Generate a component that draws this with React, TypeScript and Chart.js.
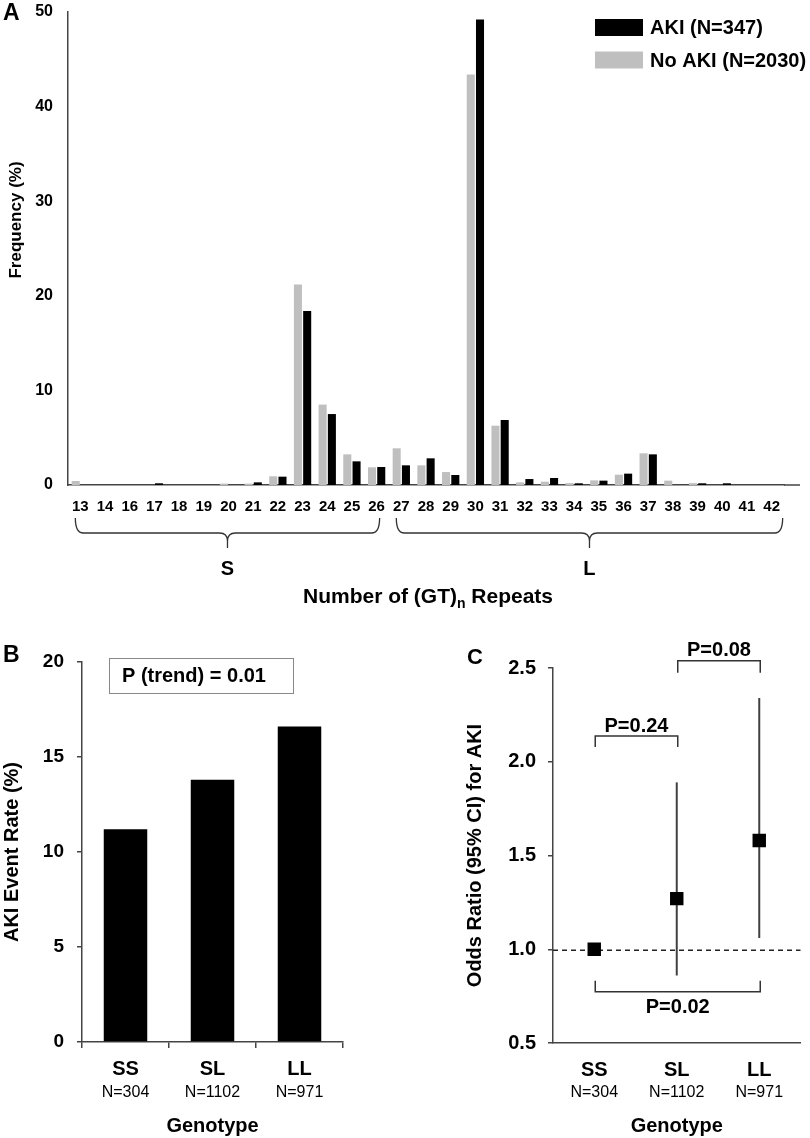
import React, { useEffect, useRef } from 'react';
import { Chart, registerables } from 'chart.js';

Chart.register(...registerables);

const FONT = '"Liberation Sans", Arial, Helvetica, sans-serif';
Chart.defaults.font.family = FONT;
Chart.defaults.color = '#000';

// ---------- Panel A data ----------
const repeatLabels = ['13', '14', '16', '17', '18', '19', '20', '21', '22', '23', '24', '25', '26', '27', '28', '29', '30', '31', '32', '33', '34', '35', '36', '37', '38', '39', '40', '41', '42'];
const noAkiFreq = [0.42, 0, 0, 0, 0, 0, 0.15, 0.15, 0.92, 21.2, 8.5, 3.24, 1.87, 3.88, 2.08, 1.37, 43.4, 6.27, 0.28, 0.35, 0.2, 0.49, 1.09, 3.35, 0.46, 0.2, 0, 0, 0];
const akiFreq = [0, 0, 0, 0.18, 0, 0, 0, 0.28, 0.88, 18.4, 7.5, 2.5, 1.9, 2.08, 2.82, 1.06, 49.2, 6.87, 0.63, 0.74, 0.18, 0.46, 1.2, 3.24, 0, 0.18, 0.18, 0, 0];
const seriesNames = ['AKI (N=347)', 'No AKI (N=2030)'];
const groupNames = ['S', 'L'];
// index ranges (into repeatLabels) of the S and L groups
const groupStart = [0, 13];
const groupEnd = [12, 28];

// ---------- Panel B / C data ----------
const genotypes = ['SS', 'SL', 'LL'];
const genotypeN = ['N=304', 'N=1102', 'N=971'];
const akiRate = [11.2, 13.8, 16.6];
const oddsRatio = [1.0, 1.27, 1.58];
const ciLow = [null, 0.86, 1.06];
const ciHigh = [null, 1.89, 2.34];
const pTrend = 'P (trend) = 0.01';
const pairFrom = [0, 1, 0];
const pairTo = [1, 2, 2];
const pairLabels = ['P=0.24', 'P=0.08', 'P=0.02'];

const AXIS = '#444';
const GREY = '#bfbfbf';

function font(size: number, bold = true) {
  return `${bold ? 'bold ' : ''}${size}px ${FONT}`;
}

function drawBrace(ctx: CanvasRenderingContext2D, x1: number, x2: number, yTop: number, yMid: number, yTip: number) {
  const xm = (x1 + x2) / 2;
  const r = 8;
  ctx.beginPath();
  ctx.moveTo(x1, yTop);
  ctx.quadraticCurveTo(x1, yMid, x1 + r, yMid);
  ctx.lineTo(xm - r, yMid);
  ctx.quadraticCurveTo(xm, yMid, xm, yMid + r);
  ctx.lineTo(xm, yTip);
  ctx.moveTo(xm, yMid + r);
  ctx.quadraticCurveTo(xm, yMid, xm + r, yMid);
  ctx.lineTo(x2 - r, yMid);
  ctx.quadraticCurveTo(x2, yMid, x2, yTop);
  ctx.stroke();
}

const noScalePad = (s: any) => {
  s.paddingTop = 0;
  s.paddingBottom = 0;
};

const panelAPlugin = {
  id: 'panelA',
  afterDraw(chart: any) {
    const { ctx, chartArea, scales } = chart;
    const xs = scales.x;
    ctx.save();
    // axis extension
    ctx.strokeStyle = AXIS;
    ctx.lineWidth = 1.5;
    ctx.beginPath();
    ctx.moveTo(chartArea.right, chartArea.bottom);
    ctx.lineTo(800, chartArea.bottom);
    ctx.stroke();

    // panel letter
    ctx.fillStyle = '#000';
    ctx.font = font(23);
    ctx.textAlign = 'left';
    ctx.textBaseline = 'middle';
    ctx.fillText('A', 3, 14);

    // legend
    const legendColors = ['#000', GREY];
    const legendY = [27.5, 60];
    ctx.font = font(20);
    for (let i = 0; i < seriesNames.length; i++) {
      ctx.fillStyle = legendColors[i];
      ctx.fillRect(595, legendY[i] - 8.5, 48, 17);
      ctx.fillStyle = '#000';
      ctx.fillText(seriesNames[i], 650, legendY[i] + 1);
    }

    // braces + group letters
    ctx.strokeStyle = '#333';
    ctx.lineWidth = 1.3;
    for (let g = 0; g < groupNames.length; g++) {
      const x1 = xs.getPixelForValue(groupStart[g]) - 5;
      const x2 = xs.getPixelForValue(groupEnd[g]) + (g === 1 ? 11 : 3);
      drawBrace(ctx, x1, x2, 518, 533, 548);
      ctx.fillStyle = '#000';
      ctx.font = font(20);
      ctx.textAlign = 'center';
      ctx.textBaseline = 'middle';
      ctx.fillText(groupNames[g], (x1 + x2) / 2, 569);
    }

    // x title with subscript
    const part1 = 'Number of (GT)';
    const sub = 'n';
    const part2 = ' Repeats';
    ctx.font = font(21);
    const w1 = ctx.measureText(part1).width;
    const w3 = ctx.measureText(part2).width;
    ctx.font = font(14);
    const w2 = ctx.measureText(sub).width;
    const total = w1 + w2 + w3;
    let x = (chartArea.left + chartArea.right) / 2 - total / 2 + 2;
    ctx.textAlign = 'left';
    ctx.textBaseline = 'alphabetic';
    ctx.font = font(21);
    ctx.fillText(part1, x, 603);
    x += w1;
    ctx.font = font(14);
    ctx.fillText(sub, x, 608);
    x += w2;
    ctx.font = font(21);
    ctx.fillText(part2, x, 603);

    // y title
    ctx.translate(16, 220);
    ctx.rotate(-Math.PI / 2);
    ctx.font = font(17);
    ctx.textAlign = 'center';
    ctx.textBaseline = 'middle';
    ctx.fillText('Frequency (%)', 0, 0);
    ctx.restore();
  },
};

const panelBPlugin = {
  id: 'panelB',
  afterDraw(chart: any) {
    const { ctx, scales } = chart;
    ctx.save();
    ctx.fillStyle = '#000';
    ctx.font = font(23);
    ctx.textAlign = 'left';
    ctx.textBaseline = 'middle';
    ctx.fillText('B', 3, 16);

    // p trend box
    ctx.strokeStyle = '#888';
    ctx.lineWidth = 1;
    ctx.strokeRect(109.5, 18.5, 184, 35);
    ctx.font = font(20);
    ctx.fillText(pTrend, 122, 36.5);

    // N labels
    ctx.font = font(16, false);
    ctx.textAlign = 'center';
    for (let i = 0; i < genotypeN.length; i++) {
      ctx.fillText(genotypeN[i], scales.x.getPixelForValue(i), 453);
    }
    ctx.restore();
  },
};

const panelCPlugin = {
  id: 'panelC',
  beforeDatasetsDraw(chart: any) {
    const { ctx, chartArea, scales } = chart;
    const xs = scales.x;
    const ys = scales.y;
    ctx.save();
    // reference line at OR = 1
    ctx.strokeStyle = '#222';
    ctx.lineWidth = 1.3;
    ctx.setLineDash([5, 4]);
    const y1 = ys.getPixelForValue(1.0) + 1;
    ctx.beginPath();
    ctx.moveTo(chartArea.left, y1);
    ctx.lineTo(chartArea.right, y1);
    ctx.stroke();
    ctx.setLineDash([]);
    // confidence intervals
    ctx.strokeStyle = '#404040';
    ctx.lineWidth = 2;
    for (let i = 0; i < oddsRatio.length; i++) {
      const lo = ciLow[i];
      const hi = ciHigh[i];
      if (lo == null || hi == null) continue;
      const x = xs.getPixelForValue(i);
      ctx.beginPath();
      ctx.moveTo(x, ys.getPixelForValue(lo));
      ctx.lineTo(x, ys.getPixelForValue(hi));
      ctx.stroke();
    }
    ctx.restore();
  },
  afterDraw(chart: any) {
    const { ctx, scales } = chart;
    const xs = scales.x;
    const ys = scales.y;
    ctx.save();
    ctx.fillStyle = '#000';
    ctx.font = font(22);
    ctx.textAlign = 'left';
    ctx.textBaseline = 'middle';
    ctx.fillText('C', 67, 18);

    // comparison brackets (levels in odds-ratio units)
    const level = [2.137, 2.539, 0.774];
    const tip = [2.079, 2.475, 0.832];
    const textLevel = [2.19, 2.596, 0.687];
    ctx.strokeStyle = '#333';
    ctx.lineWidth = 1.5;
    ctx.font = font(20);
    ctx.textAlign = 'center';
    for (let k = 0; k < pairLabels.length; k++) {
      const xa = xs.getPixelForValue(pairFrom[k]) + 1;
      const xb = xs.getPixelForValue(pairTo[k]) + 1;
      const yl = ys.getPixelForValue(level[k]);
      const yt = ys.getPixelForValue(tip[k]);
      ctx.beginPath();
      ctx.moveTo(xa, yt);
      ctx.lineTo(xa, yl);
      ctx.lineTo(xb, yl);
      ctx.lineTo(xb, yt);
      ctx.stroke();
      ctx.fillText(pairLabels[k], (xa + xb) / 2, ys.getPixelForValue(textLevel[k]));
    }

    // N labels
    ctx.font = font(16, false);
    for (let i = 0; i < genotypeN.length; i++) {
      ctx.fillText(genotypeN[i], xs.getPixelForValue(i), 453);
    }
    ctx.restore();
  },
};

function useChart(ref: React.RefObject<HTMLCanvasElement>, makeConfig: () => any) {
  useEffect(() => {
    if (!ref.current) return;
    const chart = new Chart(ref.current, makeConfig());
    return () => chart.destroy();
  }, []);
}

export default function App() {
  const aRef = useRef<HTMLCanvasElement>(null);
  const bRef = useRef<HTMLCanvasElement>(null);
  const cRef = useRef<HTMLCanvasElement>(null);

  useChart(aRef, () => ({
    type: 'bar',
    data: {
      labels: repeatLabels,
      datasets: [
        { label: seriesNames[1], data: noAkiFreq, backgroundColor: GREY, barPercentage: 0.87, categoryPercentage: 0.75 },
        { label: seriesNames[0], data: akiFreq, backgroundColor: '#000', barPercentage: 0.87, categoryPercentage: 0.75 },
      ],
    },
    options: {
      responsive: false,
      animation: false,
      layout: { padding: { left: 0, right: 26, top: 12, bottom: 0 } },
      plugins: { legend: { display: false }, tooltip: { enabled: false } },
      scales: {
        x: {
          grid: { display: false, drawTicks: false },
          border: { color: AXIS, width: 1.5 },
          ticks: { font: { size: 15, weight: 'bold' }, color: '#000', padding: 13, autoSkip: false, maxRotation: 0 },
          afterFit: (s: any) => { s.height = 135; },
        },
        y: {
          min: 0,
          max: 50,
          grid: { display: false, drawTicks: false },
          border: { color: AXIS, width: 1.5 },
          ticks: { stepSize: 10, font: { size: 16, weight: 'bold' }, color: '#000', padding: 15 },
          afterFit: (s: any) => { s.width = 68; noScalePad(s); },
        },
      },
    },
    plugins: [panelAPlugin],
  }));

  useChart(bRef, () => ({
    type: 'bar',
    data: {
      labels: genotypes,
      datasets: [{ label: 'AKI Event Rate', data: akiRate, backgroundColor: '#000', barPercentage: 0.5, categoryPercentage: 1 }],
    },
    options: {
      responsive: false,
      animation: false,
      layout: { padding: { left: 0, right: 57, top: 22, bottom: 0 } },
      plugins: { legend: { display: false }, tooltip: { enabled: false } },
      scales: {
        x: {
          grid: { display: true, drawOnChartArea: false, tickLength: 6, color: AXIS, lineWidth: 1.5, offset: true },
          border: { color: AXIS, width: 1.5 },
          ticks: { font: { size: 20, weight: 'bold' }, color: '#000', padding: 9 },
          title: { display: true, text: 'Genotype', font: { size: 20, weight: 'bold' }, color: '#000', padding: { top: 0, bottom: 0 } },
          afterFit: (s: any) => { s.height = 96; },
        },
        y: {
          min: 0,
          max: 20,
          grid: { display: true, drawOnChartArea: false, tickLength: 5, color: AXIS, lineWidth: 1.5 },
          border: { color: AXIS, width: 1.5 },
          ticks: { stepSize: 5, font: { size: 19, weight: 'bold' }, color: '#000', padding: 13 },
          title: { display: true, text: 'AKI Event Rate (%)', font: { size: 20, weight: 'bold' }, color: '#000', padding: { top: 0, bottom: 0 } },
          afterFit: (s: any) => { s.width = 82; noScalePad(s); },
        },
      },
    },
    plugins: [panelBPlugin],
  }));

  useChart(cRef, () => ({
    type: 'line',
    data: {
      labels: genotypes,
      datasets: [{
        label: 'Odds Ratio',
        data: oddsRatio,
        showLine: false,
        pointStyle: 'rect',
        pointRadius: 9.5,
        pointBackgroundColor: '#000',
        pointBorderColor: '#000',
        pointBorderWidth: 0,
      }],
    },
    options: {
      responsive: false,
      animation: false,
      layout: { padding: { left: 0, right: 2, top: 28, bottom: 0 } },
      plugins: { legend: { display: false }, tooltip: { enabled: false } },
      scales: {
        x: {
          offset: true,
          grid: { display: false, drawTicks: false },
          border: { color: AXIS, width: 1.5 },
          ticks: { font: { size: 20, weight: 'bold' }, color: '#000', padding: 15 },
          title: { display: true, text: 'Genotype', font: { size: 20, weight: 'bold' }, color: '#000', padding: { top: 0, bottom: 0 } },
          afterFit: (s: any) => { s.height = 95; },
        },
        y: {
          min: 0.5,
          max: 2.5,
          grid: { display: true, drawOnChartArea: false, tickLength: 5, color: AXIS, lineWidth: 1.5 },
          border: { color: AXIS, width: 1.5 },
          ticks: { stepSize: 0.5, font: { size: 20, weight: 'bold' }, color: '#000', padding: 12, callback: (v: any) => Number(v).toFixed(1) },
          title: { display: true, text: 'Odds Ratio (95% CI) for AKI', font: { size: 20, weight: 'bold' }, color: '#000', padding: { top: 63, bottom: 0 } },
          afterFit: (s: any) => { s.width = 153; noScalePad(s); },
        },
      },
    },
    plugins: [panelCPlugin],
  }));

  return (
    <div style={{ position: 'absolute', left: 0, top: 0, width: 810, height: 1138, background: '#fff', overflow: 'hidden' }}>
      <canvas ref={aRef} width={810} height={620} style={{ position: 'absolute', left: 0, top: 0, width: 810, height: 620 }} />
      <canvas ref={bRef} width={400} height={498} style={{ position: 'absolute', left: 0, top: 640, width: 400, height: 498 }} />
      <canvas ref={cRef} width={410} height={498} style={{ position: 'absolute', left: 400, top: 640, width: 410, height: 498 }} />
    </div>
  );
}
